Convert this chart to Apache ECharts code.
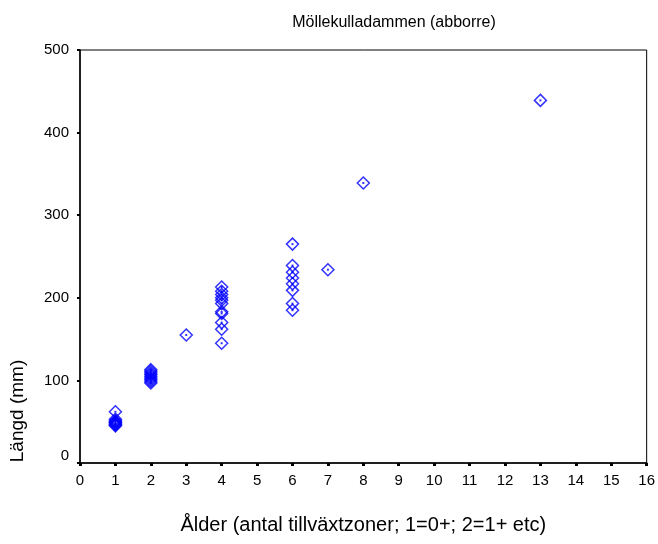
<!DOCTYPE html>
<html>
<head>
<meta charset="utf-8">
<script src="https://cdn.jsdelivr.net/npm/echarts@6/dist/echarts.min.js"></script>
<style>html,body{margin:0;padding:0;background:#fff;}#c{width:658px;height:544px;}</style>
</head>
<body>
<div id="c"></div>
<script>
var titleText = 'Möllekulladammen (abborre)';
var xName = 'Ålder (antal tillväxtzoner; 1=0+; 2=1+ etc)';
var yName = 'Längd (mm)';
var ages = [1,1,1,1,1,1,1,1,1,
            2,2,2,2,2,2,2,2,2,
            3,
            4,4,4,4,4,4,4,4,4,4,4,
            6,6,6,6,6,6,6,6,
            7,8,13];
var lengths = [62,53,51,50,49,48,47,46,45,
               113,111,109,107,105,103,101,99,97,
               155,
               213,208,204,200,197,193,183,181,170,162,145,
               265,239,231,224,217,209,193,185,
               234,339,439];
var pts = ages.map(function(a,i){return [a, lengths[i]];});
var chart = echarts.init(document.getElementById('c'));
var font = 'Arial, "Liberation Sans", sans-serif';
chart.setOption({
  animation:false,
  backgroundColor:'#fff',
  title:{text:titleText,left:389,top:10,textAlign:'center',
    textStyle:{fontFamily:font,fontSize:16,fontWeight:'normal',color:'#000'}},
  grid:{left:80,right:10,top:50,bottom:81,show:true,borderColor:'#000',borderWidth:1,backgroundColor:'transparent'},
  xAxis:{type:'value',min:0,max:16,interval:1,
    name:xName,nameLocation:'middle',nameGap:52,
    nameTextStyle:{fontFamily:font,fontSize:20,color:'#000'},
    axisLine:{show:true,onZero:false,lineStyle:{color:'#000',width:1.5}},
    axisTick:{show:true,inside:false,length:3,lineStyle:{color:'#000',width:3}},
    axisLabel:{fontFamily:font,fontSize:15,color:'#000',margin:10},
    splitLine:{show:false}},
  yAxis:{type:'value',min:0,max:500,interval:100,
    axisLine:{show:true,onZero:false,lineStyle:{color:'#000',width:1.5}},
    axisTick:{show:true,length:3,lineStyle:{color:'#000',width:2}},
    axisLabel:{fontFamily:font,fontSize:15,color:'#000',margin:11,
      formatter:function(v){return v===0?'{z|0}':String(v);},
      rich:{z:{fontFamily:font,fontSize:15,color:'#000',padding:[0,0,14,0]}}},
    splitLine:{show:false}},
  graphic:[{type:'text',x:18,y:411,rotation:Math.PI/2,
    style:{text:yName,fontFamily:font,fontSize:19,fill:'#000',align:'center',verticalAlign:'middle'}}],
  series:[
    {type:'scatter',data:pts,symbol:'diamond',symbolSize:12,
     itemStyle:{color:'transparent',borderColor:'#0000ff',borderWidth:1.5}},
    {type:'scatter',data:pts,symbol:'rect',symbolSize:2,silent:true,
     itemStyle:{color:'#0000ff'}}
  ]
});
</script>
</body>
</html>
